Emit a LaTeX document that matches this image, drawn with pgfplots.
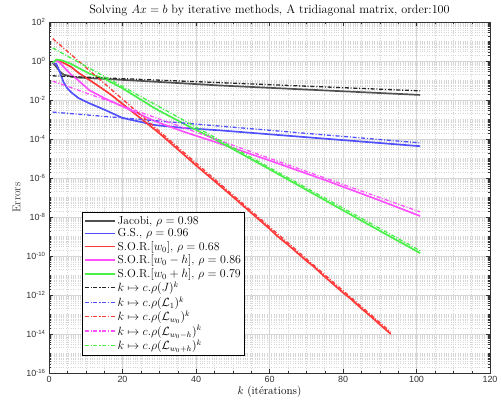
\documentclass[border=0pt]{standalone}
\usepackage{fontspec}
\newfontfamily\ticksf{Liberation Sans}
\usepackage{pgfplots}
\pgfplotsset{compat=1.18}

\definecolor{jacc}{HTML}{505050}
\definecolor{gsc}{HTML}{5050FF}
\definecolor{sorc}{HTML}{FF3838}
\definecolor{sormc}{HTML}{FF50FF}
\definecolor{sorpc}{HTML}{48F048}

% minor y grid: 2..9 in every decade, plus the odd decades
\def\myminor{}
\foreach \ee in {-16,...,1}{\foreach \mm in {2,...,9}{\xdef\myminor{\myminor\mm e\ee,}}}
\xdef\myminor{\myminor 1e-15,1e-13,1e-11,1e-9,1e-7,1e-5,1e-3,1e-1,1e1}

\begin{document}
\begin{tikzpicture}
\begin{axis}[
  scale only axis, width=441bp, height=351bp,
  at={(0,0)}, anchor=south west,
  xmin=0, xmax=120, ymin=1e-16, ymax=1e2, ymode=log,
  xtick={0,20,40,60,80,100,120}, minor x tick num=3,
  ytick={1e-16,1e-14,1e-12,1e-10,1e-8,1e-6,1e-4,1e-2,1e0,1e2},
  yticklabels={10\textsuperscript{-16},10\textsuperscript{-14},10\textsuperscript{-12},10\textsuperscript{-10},10\textsuperscript{-8},10\textsuperscript{-6},10\textsuperscript{-4},10\textsuperscript{-2},10\textsuperscript{0},10\textsuperscript{2}},
  minor ytick/.expanded={\myminor},
  grid=both,
  major grid style={black!16, line width=0.5pt},
  minor grid style={black!16, dotted, line width=0.5pt},
  axis line style={black!80, line width=0.6pt},
  tick style={black!80},
  tick align=inside, major tick length=4.5bp, minor tick length=2.5bp,
  tick label style={font=\ticksf\fontsize{9}{10}\selectfont, text=black!80},
  /pgf/number format/assume math mode=true,
  title={Solving $Ax=b$ by iterative methods, A tridiagonal matrix, order:100},
  title style={font=\fontsize{12.2}{14}\selectfont, yshift=-3bp},
  xlabel={$k$ (itérations)},
  ylabel={Errors},
  label style={font=\fontsize{11.3}{13}\selectfont},
  xlabel style={yshift=4bp},
  ylabel style={yshift=-1bp, text=black!80},
  legend style={at={(0.075,0.051)}, anchor=south west, draw=black, line width=0.6pt,
    font=\fontsize{11.6}{13}\selectfont, row sep=-0.9pt, inner sep=1.6pt},
  legend cell align=left,
  legend image code/.code={\draw[mark repeat=2,mark phase=2,#1] plot coordinates {(0bp,0bp) (15bp,0bp) (30bp,0bp)};},
]
% solid: measured errors
\addplot[jacc, line width=1.7pt] coordinates {(1,0.794) (2,0.501) (3,0.282) (4,0.200) (6,0.158) (8,0.141) (11,0.132) (25,0.0955) (46,0.0562) (101,0.0182)};
\addlegendentry{Jacobi, $\rho=0.98$}
\addplot[gsc, line width=1.7pt] coordinates {(1,0.794) (2,0.708) (3,0.251) (4,0.0794) (5,0.0398) (6,0.0251) (8,0.0126) (11,6.76e-3) (15,3.24e-3) (20,1.2e-3) (29,5.13e-4) (37,3.63e-4) (46,2.82e-4) (101,4.27e-5)};
\addlegendentry{G.S., $\rho=0.96$}
\addplot[sorc, line width=1.7pt] coordinates {(1,0.794) (2,1.122) (3,1.0) (4,0.794) (6,0.501) (8,0.251) (10,0.141) (12,0.0794) (14,0.0447) (17,0.0178) (20,6.31e-3) (25,1.12e-3) (30,2.0e-4) (35,3.0e-5) (40,4.47e-6) (46,4.9e-7) (50,1.1e-7) (55,1.66e-8) (60,2.5e-9) (62,1.1e-9) (65,3.8e-10) (70,5.75e-11) (72,2.9e-11) (75,8.7e-12) (80,1.32e-12) (82,6.6e-13) (85,2.04e-13) (88,6.8e-14) (90,3.09e-14) (93,1.0e-14)};
\addlegendentry{S.O.R.$[w_0]$, $\rho=0.68$}
\addplot[sormc, line width=1.7pt] coordinates {(1,0.794) (2,1.047) (3,0.794) (4,0.501) (5,0.316) (6,0.2) (8,0.1) (11,0.0316) (15,0.0126) (20,4.68e-3) (29,7.94e-4) (37,2.24e-4) (46,6.31e-5) (60,7.94e-6) (75,7.94e-7) (90,7.08e-8) (101,1.12e-8)};
\addlegendentry{S.O.R.$[w_0-h]$, $\rho=0.86$}
\addplot[sorpc, line width=1.7pt] coordinates {(1,0.794) (2,1.202) (3,1.122) (4,1.0) (6,0.708) (8,0.447) (11,0.224) (15,0.126) (20,0.0398) (29,3.55e-3) (37,5.62e-4) (46,7.94e-5) (60,2.82e-6) (75,7.41e-8) (90,1.95e-9) (101,1.41e-10)};
\addlegendentry{S.O.R.$[w_0+h]$, $\rho=0.79$}
% dash-dot: c.rho^k estimates
\addplot[black!85, line width=1.3pt, dash pattern=on 4bp off 1.8bp on 1bp off 1.8bp] coordinates {(1,0.174) (101,0.0295)};
\addlegendentry{$k\mapsto c.\rho(J)^k$}
\addplot[gsc, line width=1.3pt, dash pattern=on 4bp off 1.8bp on 1bp off 1.8bp] coordinates {(1,2.4e-3) (101,6.31e-5)};
\addlegendentry{$k\mapsto c.\rho(\mathcal{L}_1)^k$}
\addplot[sorc, line width=1.3pt, dash pattern=on 4bp off 1.8bp on 1bp off 1.8bp] coordinates {(1,14.1) (93,1.26e-14)};
\addlegendentry{$k\mapsto c.\rho(\mathcal{L}_{w_0})^k$}
\addplot[sormc, line width=1.3pt, dash pattern=on 4bp off 1.8bp on 1bp off 1.8bp] coordinates {(1,0.0933) (101,1.82e-8)};
\addlegendentry{$k\mapsto c.\rho(\mathcal{L}_{w_0-h})^k$}
\addplot[sorpc, line width=1.3pt, dash pattern=on 4bp off 1.8bp on 1bp off 1.8bp] coordinates {(1,4.68) (101,1.86e-10)};
\addlegendentry{$k\mapsto c.\rho(\mathcal{L}_{w_0+h})^k$}
\end{axis}
\pgfresetboundingbox
\path (-49bp,-30bp) rectangle (452bp,373bp);
\end{tikzpicture}
\end{document}
